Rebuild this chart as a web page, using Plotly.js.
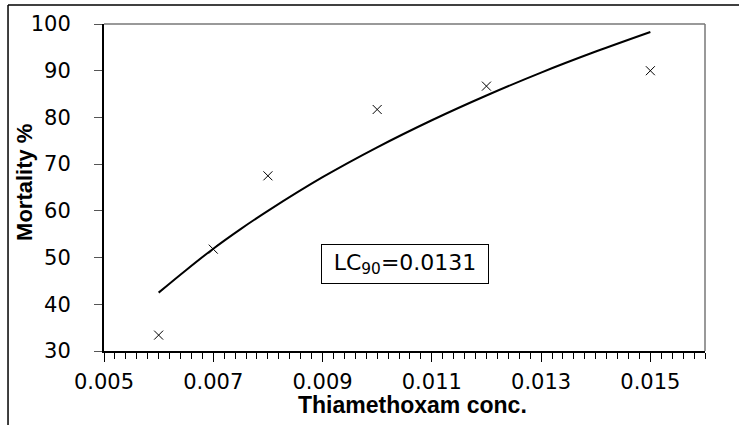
<!DOCTYPE html>
<html>
<head>
<meta charset="utf-8">
<script src="https://cdn.plot.ly/plotly-3.0.1.min.js"></script>
<style>html,body{margin:0;padding:0;background:#fff;}#chart{width:739px;height:425px;}</style>
</head>
<body>
<div id="chart"></div>
<script>
// Observed data points (concentration, mortality %)
const obsConc = [0.006, 0.007, 0.008, 0.010, 0.012, 0.015];
const obsMortality = [33.4, 51.8, 67.5, 81.7, 86.7, 90.0];

// Fitted curve
const fitConc = [0.006, 0.0065, 0.007, 0.0075, 0.008, 0.009, 0.010, 0.011, 0.012, 0.013, 0.014, 0.015];
const fitMortality = [42.5, 47.3, 51.9, 56.1, 60.0, 67.2, 73.6, 79.4, 84.7, 89.6, 94.1, 98.3];

const xTickVals = [0.005, 0.007, 0.009, 0.011, 0.013, 0.015];
const xTickText = ['0.005', '0.007', '0.009', '0.011', '0.013', '0.015'];
const xTitle = '<b>Thiamethoxam conc.</b>';
const yTitle = '<b>Mortality %</b>';
const annotationText = 'LC<sub>90</sub>=0.0131';

const font = 'DejaVu Sans, sans-serif';
const boldFont = 'Liberation Sans, Arial, sans-serif';

const traces = [
  {
    x: fitConc, y: fitMortality, type: 'scatter', mode: 'lines',
    line: {color: '#000', width: 2, shape: 'spline'}, hoverinfo: 'skip'
  },
  {
    x: obsConc, y: obsMortality, type: 'scatter', mode: 'markers',
    marker: {symbol: 'x-thin-open', size: 9, color: '#000', line: {color: '#000', width: 1}}
  }
];

const layout = {
  width: 739, height: 425,
  margin: {l: 104, r: 34, t: 24, b: 74},
  paper_bgcolor: '#fff', plot_bgcolor: '#fff',
  showlegend: false,
  font: {family: font, color: '#000', size: 21},
  xaxis: {
    range: [0.005, 0.016], tickvals: xTickVals, ticktext: xTickText,
    showgrid: false, zeroline: false,
    showline: true, linecolor: '#000', linewidth: 2,
    ticks: 'outside', ticklen: 9, tickcolor: '#000', tickwidth: 1,
    ticklabelstandoff: 2,
    minor: {dtick: 0.0002, tick0: 0.005, ticks: 'outside', ticklen: 6, tickcolor: '#000', tickwidth: 1, showgrid: false},
    tickfont: {family: font, size: 21, color: '#000'}
  },
  yaxis: {
    range: [30, 100], dtick: 10, tick0: 30,
    showgrid: false, zeroline: false,
    showline: true, linecolor: '#000', linewidth: 2,
    ticks: 'outside', ticklen: 8, tickcolor: '#555', tickwidth: 1,
    ticklabelstandoff: 19,
    tickfont: {family: font, size: 21, color: '#000'}
  },
  shapes: [
    {type: 'line', xref: 'paper', yref: 'paper', x0: 0, x1: 1, y0: 1, y1: 1, line: {color: '#777', width: 1.5}, layer: 'below'},
    {type: 'line', xref: 'paper', yref: 'paper', x0: 1, x1: 1, y0: 0, y1: 1, line: {color: '#777', width: 1.5}, layer: 'below'},
    {type: 'line', xref: 'paper', yref: 'paper', x0: -0.1597, x1: 1.06, y0: 1.0581, y1: 1.0581, line: {color: '#000', width: 1.5}},
    {type: 'line', xref: 'paper', yref: 'paper', x0: -0.1597, x1: -0.1597, y0: -0.24, y1: 1.0581, line: {color: '#000', width: 1.5}}
  ],
  annotations: [
    {
      x: 0.01051, y: 48.6, xref: 'x', yref: 'y', text: annotationText, showarrow: false,
      font: {family: font, size: 22, color: '#000'},
      width: 160, height: 32, borderpad: 3,
      bordercolor: '#000', borderwidth: 1, bgcolor: '#fff'
    },
    {
      x: 0.5125, y: -0.165, xref: 'paper', yref: 'paper', xanchor: 'center', yanchor: 'middle',
      text: xTitle, showarrow: false, font: {family: boldFont, size: 23, color: '#000'}
    },
    {
      x: -0.1314, y: 0.514, xref: 'paper', yref: 'paper', xanchor: 'center', yanchor: 'middle',
      text: yTitle, textangle: -90, showarrow: false, font: {family: boldFont, size: 22, color: '#000'}
    }
  ]
};

Plotly.newPlot('chart', traces, layout, {staticPlot: true, displayModeBar: false});
</script>
</body>
</html>
